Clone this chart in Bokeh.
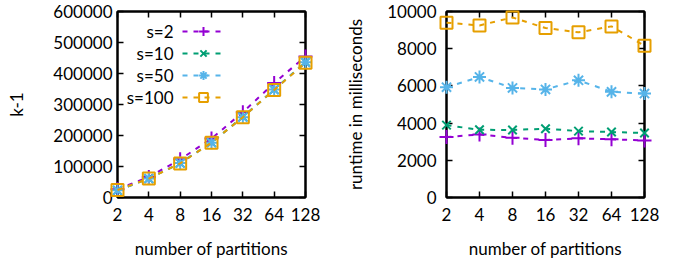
from bokeh.plotting import figure
from bokeh.models import (Range1d, FixedTicker, LinearAxis, LogAxis, BasicTickFormatter,
                          CustomJSTickFormatter, Legend, LegendItem, Label)
from bokeh.core.properties import value
from bokeh.layouts import row
from bokeh.embed import file_html
from bokeh.resources import INLINE

partitions = [2, 4, 8, 16, 32, 64, 128]
series_names = ["s=2", "s=10", "s=50", "s=100"]

k1_s2 = [27000, 66000, 123000, 190000, 275000, 369000, 455000]
k1_s10 = [23000, 61000, 111000, 177000, 260000, 348000, 437000]
k1_s50 = [23000, 61000, 111000, 177000, 259000, 348000, 436000]
k1_s100 = [24000, 61000, 110000, 177000, 259000, 347000, 435000]

rt_s2 = [3250, 3390, 3210, 3090, 3180, 3130, 3070]
rt_s10 = [3890, 3640, 3630, 3700, 3570, 3520, 3470]
rt_s50 = [5930, 6480, 5890, 5810, 6300, 5680, 5590]
rt_s100 = [9400, 9250, 9680, 9110, 8880, 9200, 8160]

k1_ticks = [0, 100000, 200000, 300000, 400000, 500000, 600000]
rt_ticks = [0, 2000, 4000, 6000, 8000, 10000]

colors = ["#9400d3", "#009e73", "#56b4e9", "#e69f00"]
markers = ["cross", "x", "asterisk", "square"]
msizes = [14, 12, 13, 12]

FONT = "Lato"
FS = "17px"
FRAME_H = 186


def style_axis(ax, show_labels=True):
    ax.axis_line_color = "black"
    ax.axis_line_width = 2
    ax.major_tick_in = 6
    ax.major_tick_out = 0
    ax.major_tick_line_width = 1.5
    ax.major_tick_line_color = "black"
    ax.minor_tick_line_color = None
    ax.major_label_text_font = FONT
    ax.major_label_text_color = "black"
    ax.axis_label_text_font = FONT
    ax.axis_label_text_font_size = FS
    ax.axis_label_text_font_style = "normal"
    ax.axis_label_text_color = "black"
    if show_labels:
        ax.major_label_text_font_size = FS
    else:
        ax.formatter = CustomJSTickFormatter(code="return ''")
        ax.major_label_text_font_size = "1px"
        ax.major_label_standoff = 0


def make_fig(series, yticks, ymax, ylabel, fw, bl, br, ytick_standoff, ylabel_standoff):
    p = figure(x_axis_type="log", frame_width=fw, frame_height=FRAME_H,
               min_border_left=bl, min_border_right=br, min_border_top=11, min_border_bottom=68,
               x_range=Range1d(2, 128), y_range=Range1d(0, ymax),
               output_backend="svg", toolbar_location=None)
    p.grid.visible = False
    p.outline_line_color = "black"
    p.outline_line_width = 2
    p.background_fill_color = "white"
    p.border_fill_color = "white"

    p.xaxis.ticker = FixedTicker(ticks=partitions)
    p.xaxis.formatter = BasicTickFormatter(use_scientific=False)
    p.yaxis.ticker = FixedTicker(ticks=yticks)
    p.yaxis.formatter = BasicTickFormatter(use_scientific=False)
    for ax in p.xaxis + p.yaxis:
        style_axis(ax)
    p.xaxis.axis_label = "number of partitions"
    p.xaxis.major_label_standoff = 10
    p.xaxis.axis_label_standoff = 14
    p.yaxis.axis_label = ylabel
    p.yaxis.major_label_standoff = ytick_standoff
    p.yaxis.axis_label_standoff = ylabel_standoff

    top = LogAxis(ticker=FixedTicker(ticks=partitions))
    style_axis(top, show_labels=False)
    p.add_layout(top, "above")
    right = LinearAxis(ticker=FixedTicker(ticks=yticks))
    style_axis(right, show_labels=False)
    p.add_layout(right, "right")

    rends = []
    for ys, c, m, s in zip(series, colors, markers, msizes):
        l = p.line(partitions, ys, line_color=c, line_width=2, line_dash="5 6", level="overlay")
        sc = p.scatter(partitions, ys, marker=m, size=s, line_color=c, fill_color=None,
                       line_width=2, level="overlay")
        rends.append((l, sc))
    return p, rends


p1, r1 = make_fig([k1_s2, k1_s10, k1_s50, k1_s100], k1_ticks, 600000, "k-1",
                  188, 117, 35, 5, 23)
p2, r2 = make_fig([rt_s2, rt_s10, rt_s50, rt_s100], rt_ticks, 10000, "runtime in milliseconds",
                  198, 106, 30, 10, 18)

# gnuplot-style key: label text on the left, line sample + marker on the right
items = [LegendItem(label=value(""), renderers=[l, sc]) for (l, sc) in r1]
leg = Legend(items=items, location=(65, 89), padding=0, margin=0, spacing=0,
             glyph_width=42, glyph_height=22, label_height=22, label_width=0,
             label_standoff=0, label_text_font=FONT, label_text_font_size=FS,
             border_line_alpha=0, background_fill_alpha=0)
p1.add_layout(leg)

for i, n in enumerate(series_names):
    p1.add_layout(Label(x=56, y=166 - 22 * i, x_units="screen", y_units="screen",
                        text=n, text_align="right", text_baseline="middle", text_font=FONT,
                        text_font_size=FS, text_color="black"))

layout = row(p1, p2)
open("out.html", "w").write(file_html(layout, INLINE))
